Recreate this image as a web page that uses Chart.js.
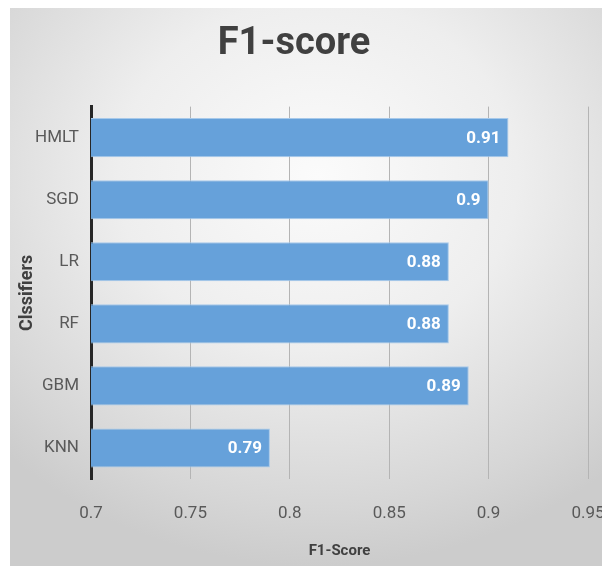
<!DOCTYPE html>
<html>
<head>
<meta charset="utf-8">
<script src="https://cdn.jsdelivr.net/npm/chart.js@4/dist/chart.umd.min.js"></script>
<style>
  html, body { margin: 0; padding: 0; background: #ffffff; }
  #wrap { position: relative; width: 602px; height: 568px; overflow: hidden; }
  #bg {
    position: absolute; left: 10px; top: 8px; width: 592px; height: 558px;
    background: radial-gradient(ellipse 75% 70% at 52% 30%, #fbfbfb 0%, #eeeeee 45%, #d6d6d6 85%, #cccccc 100%);
  }
  #chart { position: absolute; left: 0; top: 0; }
</style>
</head>
<body>
<div id="wrap">
  <div id="bg"></div>
  <canvas id="chart" width="602" height="568"></canvas>
</div>
<script>
// Classifier F1 scores, listed top to bottom
const classifiers = ['HMLT', 'SGD', 'LR', 'RF', 'GBM', 'KNN'];
const f1Scores = [0.91, 0.90, 0.88, 0.88, 0.89, 0.79];
const xTickValues = [0.7, 0.75, 0.8, 0.85, 0.9, 0.95];

const narrow = "'Liberation Sans Narrow', 'Arial Narrow', 'Roboto', sans-serif";

// Writes each bar's value in white near its right end
const barValueLabels = {
  id: 'barValueLabels',
  afterDatasetsDraw(chart) {
    const ctx = chart.ctx;
    const meta = chart.getDatasetMeta(0);
    ctx.save();
    ctx.fillStyle = '#ffffff';
    ctx.font = 'bold 17px ' + narrow;
    ctx.textAlign = 'right';
    ctx.textBaseline = 'middle';
    meta.data.forEach((bar, i) => {
      ctx.fillText(String(f1Scores[i]), bar.x - 8, bar.y + 1);
    });
    ctx.restore();
  }
};

new Chart(document.getElementById('chart'), {
  type: 'bar',
  data: {
    labels: classifiers,
    datasets: [{
      data: f1Scores,
      backgroundColor: '#66a1da',
      borderColor: '#a7c9ea',
      borderWidth: 1,
      borderSkipped: 'left',
      barPercentage: 0.63,
      categoryPercentage: 1
    }]
  },
  options: {
    indexAxis: 'y',
    responsive: false,
    animation: false,
    layout: { padding: { top: 0, left: 0, right: 14, bottom: 0 } },
    plugins: {
      legend: { display: false },
      tooltip: { enabled: false },
      title: {
        display: true,
        text: 'F1-score',
        color: '#404040',
        font: { family: narrow, size: 38, weight: 'bold' },
        padding: { top: 22, bottom: 39 }
      }
    },
    scales: {
      x: {
        type: 'linear',
        min: 0.7,
        max: 0.95,
        afterBuildTicks(scale) {
          scale.ticks = xTickValues.map(v => ({ value: v }));
        },
        afterFit(scale) {
          scale.height = 89;
          scale.paddingLeft = 0;
          scale.paddingRight = 0;
        },
        grid: {
          color: '#b4b4b4',
          lineWidth: 1,
          drawTicks: false
        },
        border: { display: false },
        ticks: {
          color: '#595959',
          font: { family: narrow, size: 17 },
          padding: 25,
          callback: v => String(Number(v.toFixed(2)))
        },
        title: {
          display: true,
          text: 'F1-Score',
          color: '#404040',
          font: { family: narrow, size: 15, weight: 'bold' },
          padding: { top: 0, bottom: 8 }
        }
      },
      y: {
        afterFit(scale) {
          scale.width = 91;
        },
        grid: { display: false, drawTicks: false },
        border: { display: true, color: '#262626', width: 3 },
        ticks: {
          color: '#595959',
          font: { family: narrow, size: 17 },
          padding: 12
        },
        title: {
          display: true,
          text: 'Clssifiers',
          color: '#404040',
          font: { family: narrow, size: 18, weight: 'bold' },
          padding: { top: 17, bottom: 0 }
        }
      }
    }
  },
  plugins: [barValueLabels]
});
</script>
</body>
</html>
